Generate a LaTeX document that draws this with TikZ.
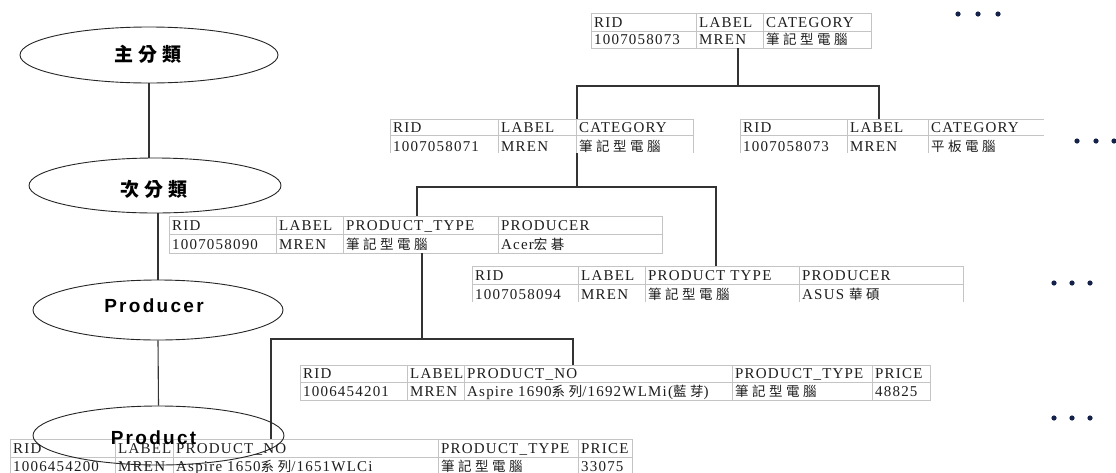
\documentclass[tikz,border=0pt]{standalone}
\usepackage{fontspec}
\setmainfont{Liberation Serif}[LetterSpace=8]
\newfontfamily\cjkfam{Noto Sans CJK TC}[LetterSpace=26]
\newfontfamily\cjkheadfam{Noto Sans CJK TC}[LetterSpace=24]
\newfontfamily\sansheadfam{Liberation Sans}[LetterSpace=12]
\usetikzlibrary{shapes.geometric}
\newcommand\zhtxt[1]{{\cjkfam\fontsize{13.5}{16}\selectfont #1}}
\definecolor{txt}{HTML}{1E1E1E}
\definecolor{gridc}{HTML}{C4C4C4}
\definecolor{treec}{HTML}{333333}
\definecolor{dotc}{HTML}{14224A}
\tikzset{
  cell/.style={anchor=base west, inner sep=0pt, text=txt, font=\fontsize{15}{18}\selectfont},
  gridline/.style={draw=gridc, line width=0.9pt},
  frame/.style={rectangle, anchor=north west, inner sep=0pt, outer sep=0pt},
  tree/.style={draw=treec, line width=1.3pt},
  eline/.style={draw=treec, line width=1.1pt},
  oval/.style={ellipse, draw=black!85, line width=0.9pt, inner sep=0pt},
  cjkhead/.style={inner sep=0pt, text=black, font=\cjkheadfam\bfseries\fontsize{19}{22}\selectfont},
  sanshead/.style={inner sep=0pt, text=black, font=\sansheadfam\bfseries\fontsize{19}{22}\selectfont},
}
\newcommand\vlin[3]{\draw[gridline] (#1,#2) -- (#1,#3);}
\newcommand\hlin[3]{\draw[gridline] (#2,#1) -- (#3,#1);}
\begin{document}
\begin{tikzpicture}[x=1pt,y=-1pt]
\useasboundingbox (0,0) rectangle (1116,472);
\fill[white] (0,0) rectangle (1116,472);

% ---------- T1 ----------
\node[frame, gridline, minimum width=280pt, minimum height=35pt] (T1) at (591,13) {};
\hlin{31}{591}{871}
\vlin{696}{13}{48} \vlin{763}{13}{48}
\node[cell] (t1a) at (594,27.5) {RID};
\node[cell] (t1b) at (699,27.5) {LABEL};
\node[cell] (t1c) at (766,27.5) {CATEGORY};
\node[cell] (t1d) at (594,44.5) {1007058073};
\node[cell] (t1e) at (699,44.5) {MREN};
\node[cell] (t1f) at (766,44.5) {\zhtxt{筆記型電腦}};

% ---------- T2 ----------
\node[frame, minimum width=303pt, minimum height=34pt] (T2) at (390,119) {};
\hlin{119}{390}{693} \hlin{135}{390}{693}
\vlin{390}{119}{153} \vlin{498}{119}{153} \vlin{576}{119}{153} \vlin{693}{119}{153}
\node[cell] (t2a) at (393,132.5) {RID};
\node[cell] (t2b) at (501,132.5) {LABEL};
\node[cell] (t2c) at (579,132.5) {CATEGORY};
\node[cell] (t2d) at (393,151) {1007058071};
\node[cell] (t2e) at (501,151) {MREN};
\node[cell] (t2f) at (579,151) {\zhtxt{筆記型電腦}};

% ---------- T3 ----------
\node[frame, minimum width=304pt, minimum height=34pt] (T3) at (740,119) {};
\hlin{119}{740}{1044} \hlin{135}{740}{1044}
\vlin{740}{119}{153} \vlin{847}{119}{153} \vlin{928}{119}{153}
\node[cell] (t3a) at (743,132.5) {RID};
\node[cell] (t3b) at (850,132.5) {LABEL};
\node[cell] (t3c) at (931,132.5) {CATEGORY};
\node[cell] (t3d) at (743,151) {1007058073};
\node[cell] (t3e) at (850,151) {MREN};
\node[cell] (t3f) at (931,151) {\zhtxt{平板電腦}};

% ---------- T4 ----------
\node[frame, gridline, minimum width=493pt, minimum height=37pt] (T4) at (169,216) {};
\hlin{234}{169}{662}
\vlin{276}{216}{253} \vlin{343}{216}{253} \vlin{498}{216}{253}
\node[cell] (t4a) at (172,230.5) {RID};
\node[cell] (t4b) at (279,230.5) {LABEL};
\node[cell] (t4c) at (346,230.5) {PRODUCT\_TYPE};
\node[cell] (t4d) at (501,230.5) {PRODUCER};
\node[cell] (t4e) at (172,249.5) {1007058090};
\node[cell] (t4f) at (279,249.5) {MREN};
\node[cell] (t4g) at (346,249.5) {\zhtxt{筆記型電腦}};
\node[cell] (t4h) at (501,249.5) {Acer\zhtxt{宏碁}};

% ---------- T5 ----------
\node[frame, minimum width=491pt, minimum height=36pt] (T5) at (472,266) {};
\hlin{266}{472}{963} \hlin{284}{472}{963}
\vlin{472}{266}{302} \vlin{578}{266}{302} \vlin{645}{266}{302} \vlin{799}{266}{302} \vlin{963}{266}{302}
\node[cell] (t5a) at (475,280.5) {RID};
\node[cell] (t5b) at (581,280.5) {LABEL};
\node[cell] (t5c) at (648,280.5) {PRODUCT TYPE};
\node[cell] (t5d) at (802,280.5) {PRODUCER};
\node[cell] (t5e) at (475,299.5) {1007058094};
\node[cell] (t5f) at (581,299.5) {MREN};
\node[cell] (t5g) at (648,299.5) {\zhtxt{筆記型電腦}};
\node[cell] (t5h) at (802,299.5) {ASUS \zhtxt{華碩}};

% ---------- T6 ----------
\node[frame, gridline, minimum width=630pt, minimum height=35pt] (T6) at (300,365) {};
\hlin{382}{300}{930}
\vlin{407}{365}{400} \vlin{464}{365}{400} \vlin{732}{365}{400} \vlin{872}{365}{400}
\node[cell] (t6a) at (303,378.5) {RID};
\node[cell] (t6b) at (410,378.5) {LABEL};
\node[cell] (t6c) at (467,378.5) {PRODUCT\_NO};
\node[cell] (t6d) at (735,378.5) {PRODUCT\_TYPE};
\node[cell] (t6e) at (875,378.5) {PRICE};
\node[cell] (t6f) at (303,396.5) {1006454201};
\node[cell] (t6g) at (410,396.5) {MREN};
\node[cell] (t6h) at (467,396.5) {Aspire 1690\zhtxt{系列}/1692WLMi(\zhtxt{藍芽})};
\node[cell] (t6i) at (735,396.5) {\zhtxt{筆記型電腦}};
\node[cell] (t6j) at (875,396.5) {48825};

% ---------- T7 ----------
\node[frame, minimum width=622pt, minimum height=36pt] (T7) at (10,439) {};
\hlin{439}{10}{632} \hlin{457}{10}{632}
\vlin{10}{439}{475} \vlin{115}{439}{475} \vlin{173}{439}{475} \vlin{438}{439}{475} \vlin{578}{439}{475} \vlin{632}{439}{475}
\node[cell] (t7a) at (13,453.5) {RID};
\node[cell] (t7b) at (118,453.5) {LABEL};
\node[cell] (t7c) at (176,453.5) {PRODUCT\_NO};
\node[cell] (t7d) at (441,453.5) {PRODUCT\_TYPE};
\node[cell] (t7e) at (581,453.5) {PRICE};
\node[cell] (t7f) at (13,471) {1006454200};
\node[cell] (t7g) at (118,471) {MREN};
\node[cell] (t7h) at (176,471) {Aspire 1650\zhtxt{系列}/1651WLCi};
\node[cell] (t7i) at (441,471) {\zhtxt{筆記型電腦}};
\node[cell] (t7j) at (581,471) {33075};

% ---------- tree connectors ----------
\coordinate (j1) at (738,86);
\coordinate (j1L) at (577,86);
\coordinate (j1R) at (879,86);
\draw[tree] (T1.south -| j1) -- (j1);
\draw[tree] (T2.north -| j1L) -- (j1L) -- (j1R) -- (T3.north -| j1R);

\coordinate (j2) at (577,187);
\coordinate (j2L) at (417,187);
\coordinate (j2R) at (716,187);
\draw[tree] (T2.south -| j2) -- (j2);
\draw[tree] (T4.north -| j2L) -- (j2L) -- (j2R) -- (T5.north -| j2R);

\coordinate (j3) at (422,339);
\coordinate (j3L) at (271,339);
\coordinate (j3R) at (573,339);
\draw[tree] (T4.south -| j3) -- (j3);
\draw[tree] (T7.north -| j3L) -- (j3L) -- (j3R) -- (T6.north -| j3R);

% ---------- ellipses ----------
\node[oval, minimum width=258pt, minimum height=56pt] (E1) at (149,55) {};
\node[oval, minimum width=252pt, minimum height=55pt] (E2) at (155,185.5) {};
\node[oval, minimum width=250pt, minimum height=60pt] (E3) at (158,310) {};
\node[oval, minimum width=251pt, minimum height=59pt] (E4) at (158.5,435.5) {};
\node[cjkhead] (L1) at (148,54.5) {主分類};
\node[cjkhead] (L2) at (154,189) {次分類};
\node[sanshead] (L3) at (154,305.5) {Producer};
\node[sanshead] (L4) at (153.5,437.5) {Product};

\draw[eline] (E1.south) -- (E1.south |- E2.north);
\draw[eline] (E3.north |- E2.south) -- (E3.north);
\draw[eline] (E3.south) -- (E4.north);

% ---------- ellipsis dots ----------
\foreach \x in {958,978,998} \fill[dotc] (\x,14) circle (2.6);
\foreach \x in {1077,1096,1114} \fill[dotc] (\x,141) circle (2.6);
\foreach \x in {1054,1072,1090} \fill[dotc] (\x,283) circle (2.6);
\foreach \x in {1054,1072,1090} \fill[dotc] (\x,418) circle (2.6);
\end{tikzpicture}
\end{document}
